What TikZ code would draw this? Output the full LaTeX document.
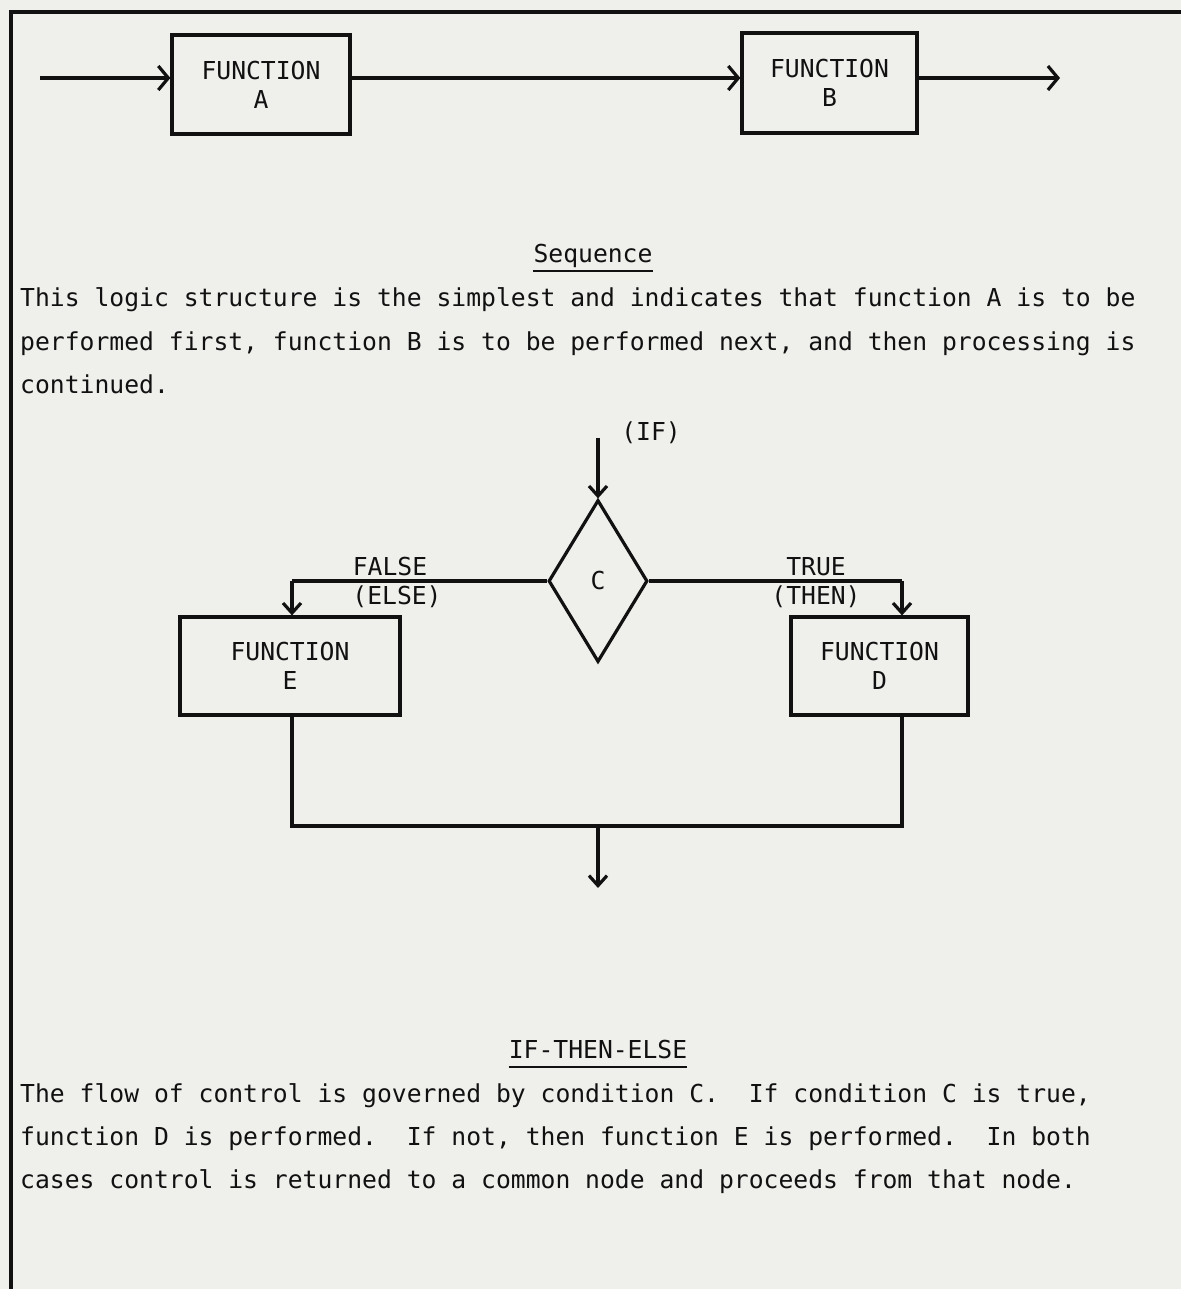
\documentclass[tikz,border=0pt]{standalone}
\usepackage{fontspec}
\usetikzlibrary{arrows.meta,shapes.geometric}
\newfontfamily\typefont{DejaVu Sans Mono}
\definecolor{paper}{HTML}{EFEFEC}
\definecolor{ink}{HTML}{111111}
\tikzset{
  tw/.style={font=\typefont\fontsize{24.7}{29}\selectfont, text=ink},
  fbox/.style={draw=ink, line width=3.2pt, rectangle, inner sep=0pt, align=center, tw},
  cond/.style={draw=ink, line width=3.2pt, shape=diamond, inner sep=0pt, tw},
  wire/.style={draw=ink, line width=3.2pt},
  seqarr/.style={wire, -{Straight Barb[length=10pt,width=24pt,line width=3.2pt]}},
  ifarr/.style={wire, -{Straight Barb[length=10pt,width=18pt,line width=3.2pt]}},
  para/.style={tw, anchor=base west, inner sep=0pt},
  lbl/.style={tw, inner sep=0pt, align=center},
  uln/.style={draw=ink, line width=2.4pt}
}
\begin{document}
\begin{tikzpicture}[x=1pt,y=-1pt]
\useasboundingbox (0,0) rectangle (1181,1289);
\fill[paper] (0,0) rectangle (1181,1289);
% frame
\draw[wire] (1181,12) -- (11,12) -- (11,1289);
% sequence
\node[fbox, minimum width=178pt, minimum height=99pt] (A) at (261,84.5) {FUNCTION\\A};
\node[fbox, minimum width=175pt, minimum height=100pt] (B) at (829.5,83) {FUNCTION\\B};
\coordinate (sin) at (40,78);
\coordinate (sout) at (1060,78);
\draw[seqarr] (sin) -- (sin -| A.west);
\draw[seqarr] (sin -| A.east) -- (sin -| B.west);
\draw[seqarr] (sin -| B.east) -- (sout);
\node[para, anchor=base] (h1) at (593,262) {Sequence};
\draw[uln] ([yshift=-9pt]h1.base west) -- ([yshift=-9pt]h1.base east);
\node[para] (p1) at (20,306) {This logic structure is the simplest and indicates that function A is to be};
\node[para] (p2) at (20,350) {performed first, function B is to be performed next, and then processing is};
\node[para] (p3) at (20,393) {continued.};
% if-then-else
\node[cond, minimum width=99pt, minimum height=162pt] (C) at (598,581) {C};
\node[lbl] (iflbl) at (651,433) {(IF)};
\coordinate (ifin) at (598,438);
\draw[ifarr] (ifin) -- (C.north);
\node[fbox, minimum width=220pt, minimum height=98pt] (E) at (290,666) {FUNCTION\\E};
\node[fbox, minimum width=177pt, minimum height=98pt] (D) at (879.5,666) {FUNCTION\\D};
\coordinate (fl) at (292,581);
\coordinate (tr) at (902,581);
\draw[wire] (C.west) -- (fl);
\draw[ifarr] (fl) -- (fl |- E.north);
\draw[wire] (C.east) -- (tr);
\draw[ifarr] (tr) -- (tr |- D.north);
\node[lbl] (false) at (390,567) {FALSE};
\node[lbl] (else) at (397,597) {(ELSE)};
\node[lbl] (true) at (816,567) {TRUE};
\node[lbl] (then) at (816,597) {(THEN)};
\coordinate (jl) at (292,826);
\coordinate (jr) at (902,826);
\coordinate (jm) at (598,826);
\coordinate (jout) at (598,888);
\draw[wire] (fl |- E.south) -- (jl) -- (jr) -- (tr |- D.south);
\draw[ifarr] (jm) -- (jout);
\node[para, anchor=base] (h2) at (598,1058) {IF-THEN-ELSE};
\draw[uln] ([yshift=-9pt]h2.base west) -- ([yshift=-9pt]h2.base east);
\node[para] (q1) at (20,1102) {The flow of control is governed by condition C.\ \ If condition C is true,};
\node[para] (q2) at (20,1145) {function D is performed.\ \ If not, then function E is performed.\ \ In both};
\node[para] (q3) at (20,1188) {cases control is returned to a common node and proceeds from that node.};
\end{tikzpicture}
\end{document}
